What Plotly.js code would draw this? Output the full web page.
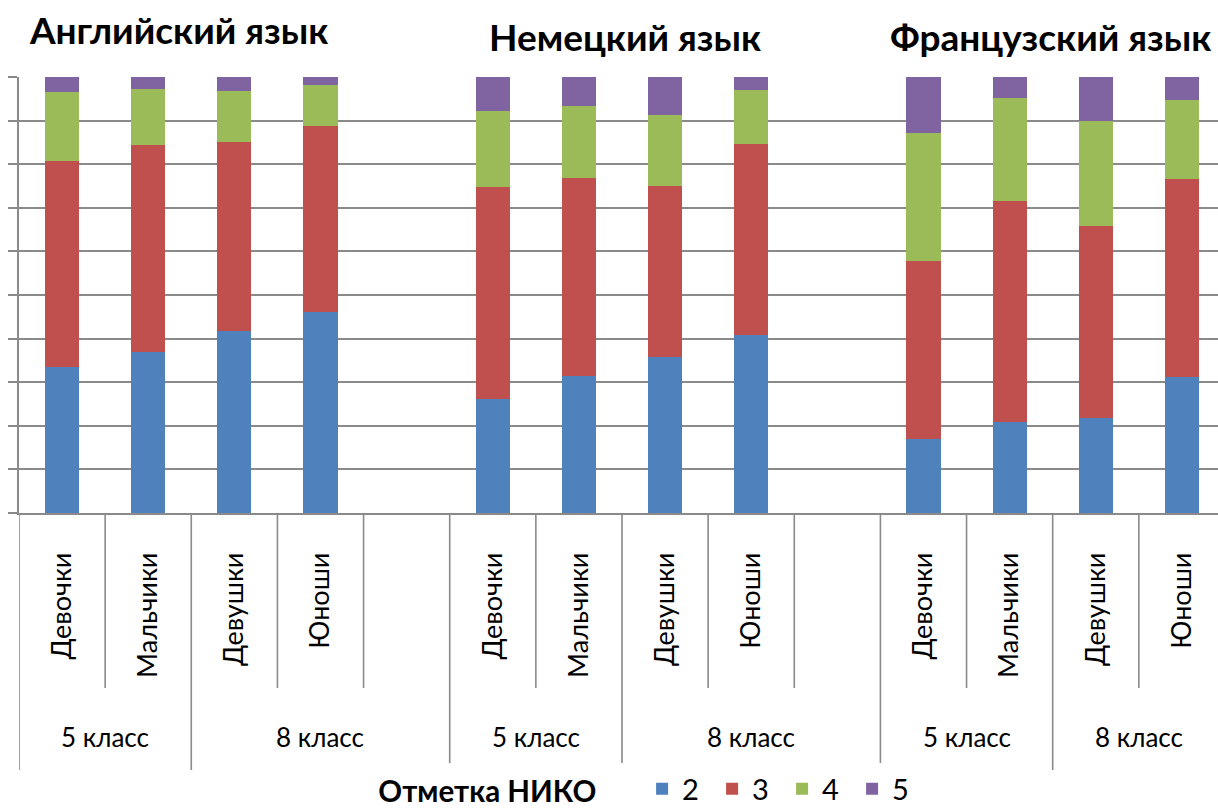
<!DOCTYPE html>
<html>
<head>
<meta charset="utf-8">
<script src="https://cdn.plot.ly/plotly-3.0.1.min.js"></script>
<style>html,body{margin:0;padding:0;background:#fff;}#chart{width:1218px;height:808px;}</style>
</head>
<body>
<div id="chart"></div>
<script>
// ---- data ----
const languages = ['Английский язык', 'Немецкий язык', 'Французский язык'];
const groups = ['Девочки', 'Мальчики', 'Девушки', 'Юноши'];
const classes = ['5 класс', '8 класс'];
const marks = ['2', '3', '4', '5'];
// percentages per bar: English (4), German (4), French (4)
const mark2 = [33.5, 37.0, 41.7, 46.1, 26.2, 31.5, 35.8, 40.8, 17.0, 20.8, 21.7, 31.2];
const mark3 = [47.2, 47.3, 43.3, 42.7, 48.6, 45.3, 39.2, 43.9, 40.8, 50.8, 44.2, 45.4];
const mark4 = [15.8, 12.9, 11.9, 9.4, 17.5, 16.6, 16.3, 12.3, 29.3, 23.6, 23.9, 18.2];
const mark5 = [3.5, 2.8, 3.1, 1.8, 7.7, 6.6, 8.6, 2.9, 12.9, 4.7, 10.3, 5.2];
const colors = ['#4F81BD', '#C0504D', '#9BBB59', '#8064A2'];

// ---- build categories (with blank spacer slots between languages) ----
const barKeys = [];
const categoryArray = [];
languages.forEach((lang, li) => {
  groups.forEach(g => {
    const k = lang + '|' + g;
    barKeys.push(k);
    categoryArray.push(k);
  });
  if (li < languages.length - 1) categoryArray.push('spacer' + li);
});
const tickText = barKeys.map(k => k.split('|')[1]);

const series = [mark2, mark3, mark4, mark5];
const traces = series.map((vals, i) => ({
  type: 'bar',
  name: marks[i],
  x: barKeys,
  y: vals,
  width: 0.395,
  marker: {color: colors[i], line: {width: 0}},
  hoverinfo: 'x+y+name'
}));

const gridColor = '#8a8a8a';
const FONT = 'Lato, "Open Sans", sans-serif';

// divider shapes below the axis
const shapes = [];
const slotCount = categoryArray.length;
const shortY = -0.4014, longY = -0.5894;
const longSet = [0, 2, 5, 7, 10, 12];
for (let b = 0; b < slotCount; b++) {
  const xb = b - 0.5;
  const isLong = longSet.indexOf(b) >= 0;
  shapes.push({type: 'line', xref: 'x', yref: 'paper', x0: xb, x1: xb, y0: 0, y1: isLong ? longY : shortY,
    line: {color: gridColor, width: 1.6}});
}

// class labels and language titles
const annotations = [];
const classCenters = [0.5, 3, 5.5, 8, 10.5, 12.5];
classCenters.forEach((cx, i) => {
  annotations.push({xref: 'x', yref: 'paper', x: cx, y: -0.5138, text: classes[i % 2], showarrow: false,
    xanchor: 'center', yanchor: 'middle', font: {family: FONT, size: 26, color: '#000'}});
});
const titleX = [1.357, 6.535, 11.48];
const titleY = [1.110, 1.094, 1.094];
languages.forEach((lang, i) => {
  annotations.push({xref: 'x', yref: 'paper', x: titleX[i], y: titleY[i], text: '<b>' + lang + '</b>', showarrow: false,
    xanchor: 'center', yanchor: 'middle', font: {family: FONT, size: 37, color: '#000'}});
});

const layout = {
  width: 1218, height: 808,
  margin: {l: 19, r: 0, t: 77, b: 295, autoexpand: false},
  paper_bgcolor: '#fff', plot_bgcolor: '#fff',
  barmode: 'stack',
  showlegend: true,
  legend: {
    orientation: 'h', x: 0.298, xanchor: 'left', y: -0.633, yanchor: 'middle',
    traceorder: 'normal',
    title: {text: '<b>Отметка НИКО</b>\u00A0\u00A0\u00A0\u00A0\u00A0', font: {family: FONT, size: 29.5, color: '#000'}, side: 'left'},
    font: {family: FONT, size: 29, color: '#000'},
    itemwidth: 30, tracegroupgap: 0, entrywidth: 25, entrywidthmode: 'pixels'
  },
  xaxis: {
    type: 'category', categoryorder: 'array', categoryarray: categoryArray,
    range: [-0.5, 13.419], fixedrange: true, automargin: false,
    tickmode: 'array', tickvals: barKeys, ticktext: tickText,
    tickangle: -90, ticks: '', ticklabelstandoff: 27,
    tickfont: {family: FONT, size: 27, color: '#000'},
    showgrid: false, showline: true, linecolor: gridColor, linewidth: 1.6, zeroline: false
  },
  yaxis: {
    range: [0, 100], dtick: 10, tick0: 0, fixedrange: true, automargin: false,
    showticklabels: false, ticks: 'outside', ticklen: 9, tickcolor: gridColor, tickwidth: 1.6,
    showgrid: true, gridcolor: gridColor, gridwidth: 1.6,
    showline: true, linecolor: gridColor, linewidth: 1.6, zeroline: false
  },
  shapes: shapes,
  annotations: annotations
};

Plotly.newPlot('chart', traces, layout, {displayModeBar: false});
</script>
</body>
</html>
